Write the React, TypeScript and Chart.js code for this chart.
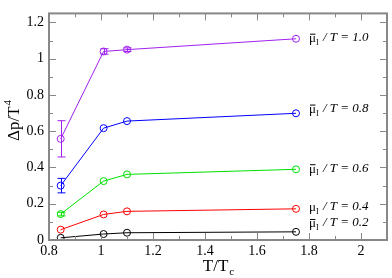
import React, { useEffect, useRef } from "react";
import { Chart, registerables } from "chart.js";
Chart.register(...registerables);

const temps = [0.845, 1.01, 1.1, 1.75];
const mu10 = [0.558, 1.04, 1.05, 1.11];
const mu10Err = [0.1, 0.015, 0.01, 0];
const mu08 = [0.3, 0.617, 0.656, 0.699];
const mu08Err = [0.04, 0, 0, 0];
const mu06 = [0.143, 0.325, 0.362, 0.39];
const mu06Err = [0.01, 0, 0, 0];
const mu04 = [0.057, 0.141, 0.158, 0.172];
const mu04Err = [0, 0, 0, 0];
const mu02 = [0.012, 0.033, 0.04, 0.045];
const mu02Err = [0, 0, 0, 0];

const seriesValues = [mu10, mu08, mu06, mu04, mu02];
const seriesErrors = [mu10Err, mu08Err, mu06Err, mu04Err, mu02Err];
const seriesColors = ["#a020f0", "#0000ff", "#00e000", "#ff0000", "#000000"];
const labelTexts = ["1.0", "0.8", "0.6", "0.4", "0.2"];
const labelBars = [true, true, true, false, true];
const labelY = [1.116, 0.725, 0.396, 0.183, 0.094];
const labelX = 1.8;

const FONT = "Liberation Serif";

const decoPlugin = {
  id: "deco",
  afterDatasetsDraw(chart: any) {
    const ctx = chart.ctx;
    const xs = chart.scales.x;
    const ys = chart.scales.y;
    const a = chart.chartArea;
    ctx.save();
    // error bars
    seriesValues.forEach((vals, si) => {
      const errs = seriesErrors[si];
      ctx.strokeStyle = seriesColors[si];
      ctx.lineWidth = 1;
      vals.forEach((v, i) => {
        const e = errs[i];
        if (!e) return;
        const px = Math.round(xs.getPixelForValue(temps[i])) + 0.5;
        const y1 = ys.getPixelForValue(v - e);
        const y2 = ys.getPixelForValue(v + e);
        ctx.beginPath();
        ctx.moveTo(px, y1);
        ctx.lineTo(px, y2);
        ctx.moveTo(px - 4, y1);
        ctx.lineTo(px + 4, y1);
        ctx.moveTo(px - 4, y2);
        ctx.lineTo(px + 4, y2);
        ctx.stroke();
      });
    });
    // frame
    ctx.strokeStyle = "#888";
    ctx.lineWidth = 2;
    ctx.strokeRect(a.left, a.top, a.right - a.left, a.bottom - a.top);
    ctx.lineWidth = 1;
    ctx.beginPath();
    for (let k = 8; k <= 21; k++) {
      const v = k / 10;
      const px = Math.round(xs.getPixelForValue(v)) + 0.5;
      const len = k % 2 === 0 ? 7 : 4;
      ctx.moveTo(px, a.bottom);
      ctx.lineTo(px, a.bottom - len);
      ctx.moveTo(px, a.top);
      ctx.lineTo(px, a.top + len);
    }
    for (let k = 0; k <= 12; k++) {
      const v = k / 10;
      const py = Math.round(ys.getPixelForValue(v)) + 0.5;
      const len = k % 2 === 0 ? 7 : 4;
      ctx.moveTo(a.left, py);
      ctx.lineTo(a.left + len, py);
      ctx.moveTo(a.right, py);
      ctx.lineTo(a.right - len, py);
    }
    ctx.stroke();

    // series labels
    ctx.fillStyle = "#000";
    ctx.strokeStyle = "#000";
    ctx.textBaseline = "middle";
    ctx.textAlign = "left";
    labelTexts.forEach((t, i) => {
      const x = xs.getPixelForValue(labelX);
      const y = ys.getPixelForValue(labelY[i]);
      ctx.font = "13px " + FONT;
      ctx.fillText("\u03bc", x, y + 1);
      const w = ctx.measureText("\u03bc").width;
      if (labelBars[i]) {
        ctx.beginPath();
        ctx.moveTo(x + 1, y - 3.5);
        ctx.lineTo(x + w - 0.5, y - 3.5);
        ctx.stroke();
      }
      ctx.font = "8px " + FONT;
      ctx.fillText("I", x + w, y + 5);
      ctx.font = "italic 13px " + FONT;
      ctx.fillText("/ T = " + t, x + w + 7, y);
    });

    // axis titles
    ctx.font = "17px " + FONT;
    ctx.textBaseline = "alphabetic";
    const main = "T/T";
    const mw = ctx.measureText(main).width;
    ctx.font = "11px " + FONT;
    const sw = ctx.measureText("c").width;
    const xc = (a.left + a.right) / 2;
    const x0 = xc - (mw + sw) / 2;
    ctx.font = "17px " + FONT;
    ctx.fillText(main, x0, 271);
    ctx.font = "11px " + FONT;
    ctx.fillText("c", x0 + mw + 1, 275);
    ctx.save();
    ctx.translate(19, 121);
    ctx.rotate(-Math.PI / 2);
    ctx.font = "17px " + FONT;
    const yt = "\u0394p/T";
    const yw = ctx.measureText(yt).width;
    ctx.font = "11px " + FONT;
    const ew = ctx.measureText("4").width;
    ctx.font = "17px " + FONT;
    ctx.textAlign = "left";
    ctx.fillText(yt, -(yw + ew) / 2, 0);
    ctx.font = "11px " + FONT;
    ctx.fillText("4", -(yw + ew) / 2 + yw + 1, -8);
    ctx.restore();
    ctx.restore();
  },
};

export default function App() {
  const ref = useRef<HTMLCanvasElement>(null);
  useEffect(() => {
    document.body.style.margin = "0";
    const chart = new Chart(ref.current!, {
      type: "line",
      data: {
        datasets: seriesValues.map((vals, si) => ({
          data: vals.map((v, i) => ({ x: temps[i], y: v })),
          borderColor: seriesColors[si],
          backgroundColor: "rgba(0,0,0,0)",
          borderWidth: 1,
          pointRadius: 3.5,
          pointBorderWidth: 1,
          pointBorderColor: seriesColors[si],
          pointBackgroundColor: "rgba(0,0,0,0)",
          tension: 0,
          fill: false,
        })),
      },
      options: {
        animation: false,
        responsive: false,
        devicePixelRatio: 1,
        layout: { padding: { top: 1, right: 1, left: 0, bottom: 0 } },
        plugins: { legend: { display: false }, tooltip: { enabled: false } },
        scales: {
          x: {
            type: "linear",
            min: 0.8,
            max: 2.1,
            grid: { display: false, drawTicks: false },
            border: { display: false },
            afterFit: (s: any) => {
              s.height = 38;
            },
            ticks: {
              stepSize: 0.2,
              includeBounds: false,
              padding: 3,
              color: "#000",
              font: { family: FONT, size: 14 },
              callback: (v: any) => String(Math.round(Number(v) * 10) / 10),
            },
          },
          y: {
            type: "linear",
            min: 0,
            max: 1.25,
            grid: { display: false, drawTicks: false },
            border: { display: false },
            afterFit: (s: any) => {
              s.width = 49;
            },
            ticks: {
              stepSize: 0.2,
              includeBounds: false,
              padding: 5,
              color: "#000",
              font: { family: FONT, size: 14 },
              callback: (v: any) => String(Math.round(Number(v) * 10) / 10),
            },
          },
        },
      },
      plugins: [decoPlugin],
    } as any);
    return () => chart.destroy();
  }, []);
  return (
    <div style={{ position: "absolute", left: 0, top: 0 }}>
      <canvas ref={ref} width={392} height={278} />
    </div>
  );
}
